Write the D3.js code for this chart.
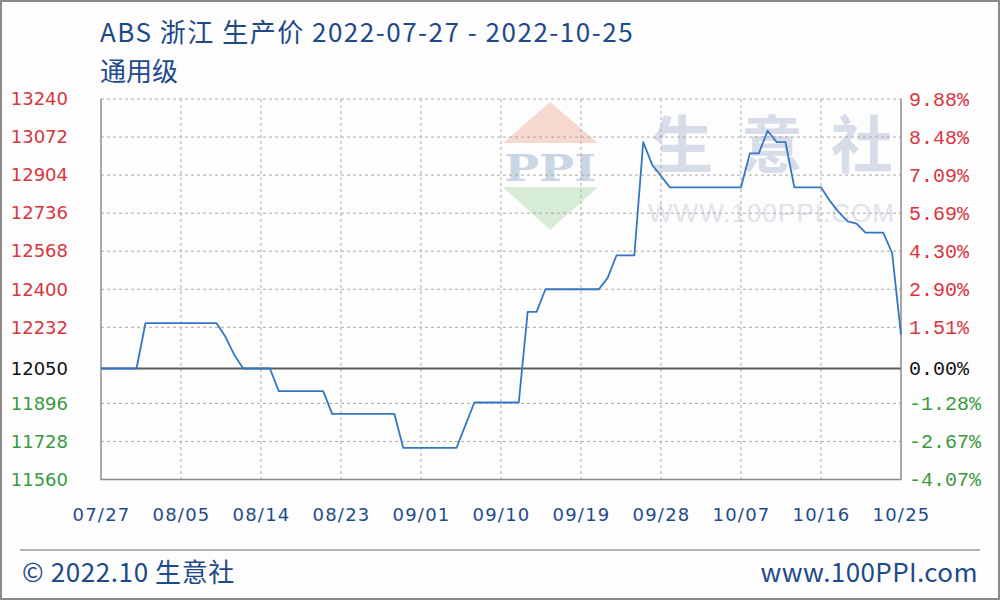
<!DOCTYPE html>
<html>
<head>
<meta charset="utf-8">
<script src="https://cdn.jsdelivr.net/npm/d3@7"></script>
<style>
  html, body { margin: 0; padding: 0; background: #ffffff; }
  svg { display: block; }
</style>
</head>
<body>
<svg id="chart" width="1000" height="600"></svg>
<script>
// ---------- data ----------
const dates = [
  "2022-07-27","2022-07-28","2022-07-29","2022-07-30","2022-07-31",
  "2022-08-01","2022-08-02","2022-08-03","2022-08-04","2022-08-05","2022-08-06","2022-08-07","2022-08-08","2022-08-09","2022-08-10",
  "2022-08-11","2022-08-12","2022-08-13","2022-08-14","2022-08-15","2022-08-16","2022-08-17","2022-08-18","2022-08-19","2022-08-20",
  "2022-08-21","2022-08-22","2022-08-23","2022-08-24","2022-08-25","2022-08-26","2022-08-27","2022-08-28","2022-08-29","2022-08-30","2022-08-31",
  "2022-09-01","2022-09-02","2022-09-03","2022-09-04","2022-09-05","2022-09-06","2022-09-07","2022-09-08","2022-09-09","2022-09-10",
  "2022-09-11","2022-09-12","2022-09-13","2022-09-14","2022-09-15","2022-09-16","2022-09-17","2022-09-18","2022-09-19","2022-09-20",
  "2022-09-21","2022-09-22","2022-09-23","2022-09-24","2022-09-25","2022-09-26","2022-09-27","2022-09-28","2022-09-29","2022-09-30",
  "2022-10-01","2022-10-02","2022-10-03","2022-10-04","2022-10-05","2022-10-06","2022-10-07","2022-10-08","2022-10-09","2022-10-10",
  "2022-10-11","2022-10-12","2022-10-13","2022-10-14","2022-10-15","2022-10-16","2022-10-17","2022-10-18","2022-10-19","2022-10-20",
  "2022-10-21","2022-10-22","2022-10-23","2022-10-24","2022-10-25"
];
const prices = [
  12050,12050,12050,12050,12050,
  12250,12250,12250,12250,12250,12250,12250,12250,12250,12190,
  12110,12050,12050,12050,12050,11950,11950,11950,11950,11950,
  11950,11850,11850,11850,11850,11850,11850,11850,11850,11700,11700,
  11700,11700,11700,11700,11700,11800,11900,11900,11900,11900,
  11900,11900,12300,12300,12400,12400,12400,12400,12400,12400,
  12400,12450,12550,12550,12550,13050,12950,12900,12850,12850,
  12850,12850,12850,12850,12850,12850,12850,13000,13000,13100,
  13050,13050,12850,12850,12850,12850,12790,12740,12700,12690,
  12650,12650,12650,12560,12200
];
const basePrice = 12050;
const leftTicks = [13240,13072,12904,12736,12568,12400,12232,12050,11896,11728,11560];
const rightTickLabels = ["9.88%","8.48%","7.09%","5.69%","4.30%","2.90%","1.51%","0.00%","-1.28%","-2.67%","-4.07%"];
const xTicks = ["2022-07-27","2022-08-05","2022-08-14","2022-08-23","2022-09-01","2022-09-10",
                "2022-09-19","2022-09-28","2022-10-07","2022-10-16","2022-10-25"];
const titleText = "ABS 浙江 生产价 2022-07-27 - 2022-10-25";
const subtitleText = "通用级";
const footerLeft = "© 2022.10 生意社";
const footerRight = "www.100PPI.com";
const watermarkChars = ["生", "意", "社"];

// ---------- setup ----------
const parse = d3.timeParse("%Y-%m-%d");
const fmt = d3.timeFormat("%m/%d");
const data = dates.map((d, i) => ({ date: parse(d), value: prices[i] }));

const svg = d3.select("#chart");
const L = 101, R = 901, T = 99, B = 479.5;

const x = d3.scaleTime().domain([parse(dates[0]), parse(dates[dates.length - 1])]).range([L, R]);
const y = d3.scaleLinear().domain([11560, 13240]).range([B, T]);

const navy = "#1f4a8a";
const red = "#d8353d", green = "#3a9a3e", black = "#111";
const colorFor = v => v > basePrice ? red : (v < basePrice ? green : black);
const cjk = "'Noto Sans CJK SC', 'Noto Sans', sans-serif";

// background + outer border
svg.append("rect").attr("x", 1).attr("y", 1).attr("width", 998).attr("height", 598)
  .attr("fill", "#fdfdfe").attr("stroke", "#8a8a8a").attr("stroke-width", 2);

// title
svg.append("text").attr("x", 100).attr("y", 42)
  .attr("font-family", cjk).attr("font-size", 26).attr("letter-spacing", 1.5)
  .attr("fill", navy).text(titleText);
svg.append("text").attr("x", 100).attr("y", 81)
  .attr("font-family", cjk).attr("font-size", 26).attr("fill", navy).text(subtitleText);

// ---------- watermark ----------
const wm = svg.append("g");
wm.append("polygon").attr("points", "503,143 598,143 550,102").attr("fill", "#f6d8ce");
wm.append("polygon").attr("points", "503,187 598,187 550,230").attr("fill", "#d6ecd6");
wm.append("text").attr("x", 550).attr("y", 181).attr("text-anchor", "middle")
  .attr("font-family", "'DejaVu Serif', serif").attr("font-weight", "bold")
  .attr("font-size", 38).attr("textLength", 92).attr("lengthAdjust", "spacingAndGlyphs")
  .attr("fill", "#cad5e6").text("PPI");
wm.selectAll("text.wmc").data(watermarkChars).join("text").attr("class", "wmc")
  .attr("x", (d, i) => 651 + i * 90).attr("y", 168)
  .attr("font-family", cjk).attr("font-weight", "bold")
  .attr("font-size", 62).attr("fill", "#d6dde9").text(d => d);
wm.append("text").attr("x", 648).attr("y", 222)
  .attr("font-family", "'Liberation Sans', sans-serif")
  .attr("font-size", 26).attr("textLength", 246).attr("fill", "#dfe3ea").text("WWW.100PPI.COM");

// ---------- grid ----------
const grid = svg.append("g");
grid.selectAll("line.h").data(leftTicks.filter(v => v !== basePrice)).join("line")
  .attr("x1", L).attr("x2", R).attr("y1", d => y(d)).attr("y2", d => y(d))
  .attr("stroke", "#a9a9a9").attr("stroke-width", 1).attr("stroke-dasharray", "3,3");
grid.selectAll("line.v").data(xTicks.slice(1, -1)).join("line")
  .attr("x1", d => x(parse(d))).attr("x2", d => x(parse(d))).attr("y1", T).attr("y2", B)
  .attr("stroke", "#a9a9a9").attr("stroke-width", 1).attr("stroke-dasharray", "3,3");
// frame
svg.append("path").attr("d", `M${L},${T}V${B}H${R}V${T}`)
  .attr("fill", "none").attr("stroke", "#8c8c8c").attr("stroke-width", 1.5);
// zero (base) line
svg.append("line").attr("x1", L).attr("x2", R).attr("y1", y(basePrice)).attr("y2", y(basePrice))
  .attr("stroke", "#5e5e5e").attr("stroke-width", 2);

// ---------- line ----------
const line = d3.line().x(d => x(d.date)).y(d => y(d.value));
svg.append("path").datum(data).attr("d", line)
  .attr("fill", "none").attr("stroke", "#3477c0").attr("stroke-width", 1.8)
  .attr("stroke-linejoin", "round");

// ---------- axes ----------
const leftAxis = d3.axisLeft(y).tickValues(leftTicks).tickSize(0).tickPadding(0).tickFormat(d => d);
const gl = svg.append("g").attr("transform", "translate(68,0)").call(leftAxis);
gl.select(".domain").remove();
gl.selectAll("text").attr("font-family", "'DejaVu Sans', sans-serif").attr("font-size", 18)
  .attr("fill", d => colorFor(d));

const rightAxis = d3.axisRight(y).tickValues(leftTicks).tickSize(0).tickPadding(8)
  .tickFormat((d, i) => rightTickLabels[i]);
const gr = svg.append("g").attr("transform", `translate(${R},0)`).call(rightAxis);
gr.select(".domain").remove();
gr.selectAll("text").attr("font-family", "'Liberation Mono', 'DejaVu Sans Mono', monospace").attr("font-size", 20)
  .attr("fill", d => colorFor(d));

const bottomAxis = d3.axisBottom(x).tickValues(xTicks.map(parse)).tickSize(0).tickPadding(0).tickFormat(fmt);
const gb = svg.append("g").attr("transform", "translate(0,508)").call(bottomAxis);
gb.select(".domain").remove();
gb.selectAll("text").attr("font-family", "'DejaVu Sans', sans-serif").attr("font-size", 18)
  .attr("letter-spacing", 1.2).attr("fill", navy);

// ---------- footer ----------
svg.append("line").attr("x1", 20).attr("x2", 980).attr("y1", 550).attr("y2", 550)
  .attr("stroke", "#9a9a9a").attr("stroke-width", 1.5);
svg.append("text").attr("x", 22).attr("y", 582)
  .attr("font-family", cjk).attr("font-size", 26).attr("letter-spacing", 0.6)
  .attr("fill", navy).text(footerLeft);
svg.append("text").attr("x", 978).attr("y", 582).attr("text-anchor", "end")
  .attr("font-family", cjk).attr("font-size", 26).attr("letter-spacing", 0.4)
  .attr("fill", navy).text(footerRight);
</script>
</body>
</html>
